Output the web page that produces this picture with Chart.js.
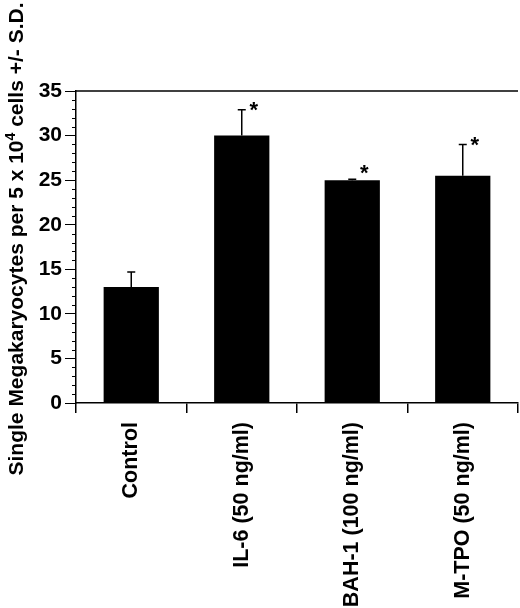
<!DOCTYPE html>
<html>
<head>
<meta charset="utf-8">
<script src="https://cdn.jsdelivr.net/npm/chart.js@4.4.0/dist/chart.umd.min.js"></script>
<style>
    html, body { margin: 0; padding: 0; background: #fff; }
    #wrap { width: 520px; height: 608px; }
</style>
</head>
<body>
<div id="wrap"><canvas id="chart" width="520" height="608"></canvas></div>
<script>
// Data
const categories = ['Control', 'IL-6 (50 ng/ml)', 'BAH-1 (100 ng/ml)', 'M-TPO (50 ng/ml)'];
const means = [13.0, 30.0, 25.0, 25.5];
const sdValues = [1.7, 2.9, 0.1, 3.5];
const significant = [false, true, true, true];
const yMin = 0;
const yMax = 35;
const yStep = 5;
const yMinorStep = 1;

const FONT = "'Liberation Sans', Arial, sans-serif";

// Error bars, stars, minor ticks, top frame line and the y title
const extras = {
    id: 'extras',
    afterDatasetsDraw(chart) {
        const ctx = chart.ctx;
        const y = chart.scales.y;
        const area = chart.chartArea;
        const bars = chart.getDatasetMeta(0).data;

        ctx.save();
        ctx.strokeStyle = '#000';
        ctx.lineWidth = 1.5;

        // frame line along the top
        ctx.beginPath();
        ctx.moveTo(area.left, area.top);
        ctx.lineTo(area.right, area.top);
        ctx.stroke();

        // minor ticks on the y axis
        ctx.lineWidth = 1;
        for (let v = yMin; v <= yMax; v += yMinorStep) {
            if (v % yStep === 0) continue;
            const py = Math.round(y.getPixelForValue(v)) + 0.5;
            ctx.beginPath();
            ctx.moveTo(area.left - 4, py);
            ctx.lineTo(area.left, py);
            ctx.stroke();
        }

        // error bars (upper half only)
        ctx.lineWidth = 1.5;
        bars.forEach((bar, i) => {
            const top = y.getPixelForValue(means[i]);
            const errTop = y.getPixelForValue(means[i] + sdValues[i]);
            ctx.beginPath();
            ctx.moveTo(bar.x, top);
            ctx.lineTo(bar.x, errTop);
            ctx.moveTo(bar.x - 4, errTop);
            ctx.lineTo(bar.x + 4, errTop);
            ctx.stroke();

            if (significant[i]) {
                const sy = Math.min(errTop - 5, top - 13);
                ctx.fillStyle = '#000';
                ctx.font = 'bold 22px ' + FONT;
                ctx.textAlign = 'center';
                ctx.textBaseline = 'alphabetic';
                ctx.fillText('*', bar.x + 12, sy + 0.57 * 22);
            }
        });

        // y axis title with superscript
        const parts = [
            { t: 'Single Megakaryocytes per 5 x 10', size: 21, rise: 0 },
            { t: '4', size: 14, rise: 8 },
            { t: ' cells +/- S.D.', size: 21, rise: 0 }
        ];
        let total = 0;
        parts.forEach(p => {
            ctx.font = 'bold ' + p.size + 'px ' + FONT;
            p.w = ctx.measureText(p.t).width;
            total += p.w;
        });
        ctx.translate(23, 239);
        ctx.rotate(-Math.PI / 2);
        ctx.textAlign = 'left';
        ctx.textBaseline = 'alphabetic';
        ctx.fillStyle = '#000';
        let cx = -total / 2;
        parts.forEach(p => {
            ctx.font = 'bold ' + p.size + 'px ' + FONT;
            ctx.fillText(p.t, cx, -p.rise);
            cx += p.w;
        });
        ctx.restore();
    }
};

new Chart(document.getElementById('chart'), {
    type: 'bar',
    data: {
        labels: categories,
        datasets: [{
            data: means,
            backgroundColor: '#000',
            borderWidth: 0,
            barPercentage: 0.5,
            categoryPercentage: 1.0
        }]
    },
    options: {
        responsive: false,
        devicePixelRatio: 1,
        animation: false,
        layout: { padding: { top: 91, right: 2, left: 0, bottom: 0 } },
        plugins: {
            legend: { display: false },
            tooltip: { enabled: false }
        },
        scales: {
            x: {
                offset: true,
                grid: {
                    offset: true,
                    drawOnChartArea: false,
                    tickLength: 10,
                    color: '#000',
                    lineWidth: 1.5
                },
                border: { color: '#000', width: 1.5 },
                ticks: {
                    color: '#000',
                    font: { family: FONT, size: 21.5, weight: 'bold' },
                    minRotation: 90,
                    maxRotation: 90,
                    padding: 9,
                    autoSkip: false
                },
                afterFit(scale) { scale.height = 205; }
            },
            y: {
                min: yMin,
                max: yMax,
                ticks: {
                    stepSize: yStep,
                    color: '#000',
                    font: { family: FONT, size: 21, weight: 'bold' },
                    padding: 3
                },
                grid: {
                    drawOnChartArea: false,
                    tickLength: 11,
                    color: '#000',
                    lineWidth: 1
                },
                border: { color: '#000', width: 1.5 },
                afterFit(scale) { scale.width = 76; }
            }
        }
    },
    plugins: [extras]
});
</script>
</body>
</html>
